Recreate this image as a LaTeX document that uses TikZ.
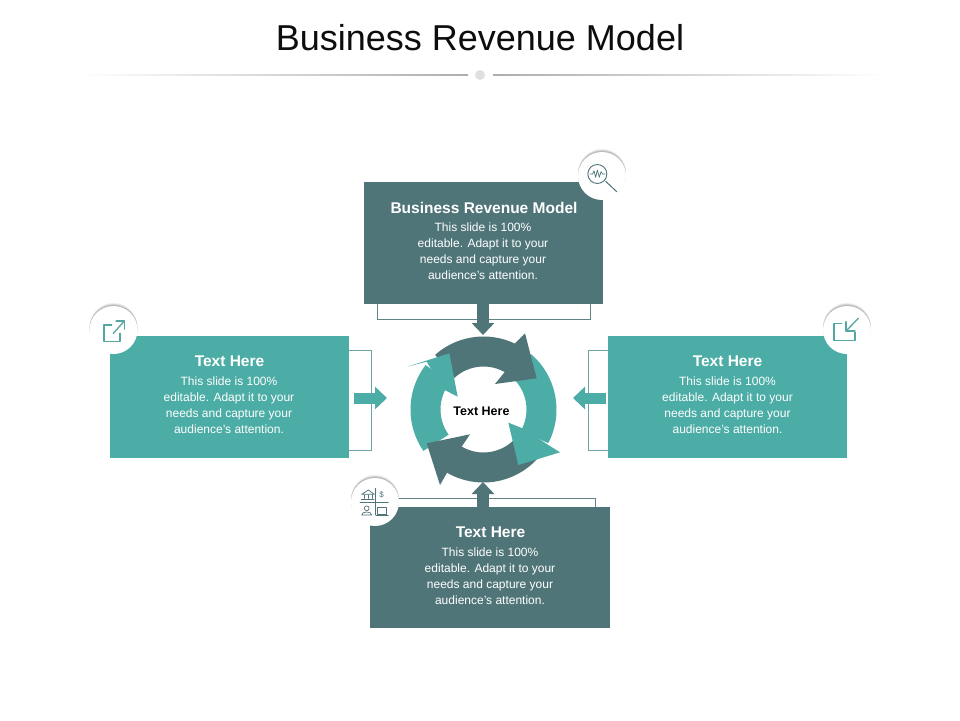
\documentclass[tikz,border=0pt]{standalone}
\usepackage{fontspec}
\setmainfont{Liberation Sans}
\usetikzlibrary{arrows.meta}
\definecolor{darkc}{HTML}{507578}
\definecolor{tealc}{HTML}{4CADA6}
\definecolor{brk}{HTML}{5F8587}
\definecolor{brkt}{HTML}{6FA3A3}
\newcommand{\iconglow}[3]{%
  \foreach \k/\o in {3.2/.06,2.6/.07,2/.09,1.4/.12,.8/.15}{
    \fill[black!70,opacity=\o] (#1,#2-\k) circle[radius=24pt];
  }
  \node[iconbase] (#3) at (#1,#2) {};
}
\tikzset{
  boxdark/.style={fill=darkc,minimum width=239pt,minimum height=122pt,inner sep=0pt,anchor=north west},
  boxteal/.style={fill=tealc,minimum width=239pt,minimum height=122pt,inner sep=0pt,anchor=north west},
  headtxt/.style={text=white,font=\bfseries\fontsize{15.5}{16}\selectfont,inner sep=0pt},
  bodytxt/.style={text=white,font=\fontsize{12}{16}\selectfont,align=center,inner sep=0pt,anchor=north},
  connd/.style={draw=darkc,line width=12pt,-{Triangle[length=12pt,width=22pt,fill=darkc]}},
  connt/.style={draw=tealc,line width=11pt,-{Triangle[length=12pt,width=22pt,fill=tealc]}},
  bracketd/.style={draw=brk,line width=.9pt},
  brackett/.style={draw=brkt,line width=.9pt},
  iconbase/.style={circle,fill=white,minimum size=48pt,inner sep=0pt},
  icond/.style={draw=darkc,line width=.9pt,line cap=round,line join=round},
  icont/.style={draw=tealc!85!gray,line width=1.3pt,line cap=round,line join=round},
  ringd/.style={draw=darkc,line width=30pt},
  ringt/.style={draw=tealc,line width=30pt}
}
\begin{document}
\begin{tikzpicture}[x=1pt,y=-1pt]
\useasboundingbox (0,0) rectangle (960,720);
\fill[white] (0,0) rectangle (960,720);
% title
\node[inner sep=0pt,font=\fontsize{36}{40}\selectfont,text=black!95] (title) at (480,38) {Business Revenue Model};
\shade[left color=white,right color=black!32] (80,74.6) rectangle (468,75.6);
\shade[left color=black!32,right color=white] (493,74.6) rectangle (885,75.6);
\node[circle,fill=black!12,minimum size=10pt,inner sep=0pt] (dot) at (480,75) {};
% brackets
\coordinate (tb1) at (377,304); \coordinate (tb2) at (377,319); \coordinate (tb3) at (590,319); \coordinate (tb4) at (590,304);
\draw[bracketd] (tb1) -- (tb2) -- (tb3) -- (tb4);
\coordinate (lb1) at (349,350.5); \coordinate (lb2) at (371,350.5); \coordinate (lb3) at (371,450); \coordinate (lb4) at (349,450);
\draw[brackett] (lb1) -- (lb2) -- (lb3) -- (lb4);
\coordinate (rb1) at (608,350.5); \coordinate (rb2) at (588.5,350.5); \coordinate (rb3) at (588.5,450); \coordinate (rb4) at (608,450);
\draw[brackett] (rb1) -- (rb2) -- (rb3) -- (rb4);
\coordinate (bb1) at (385,498); \coordinate (bb2) at (595.5,498); \coordinate (bb3) at (595.5,507);
\draw[bracketd] (bb1) -- (bb2) -- (bb3);
% boxes
\node[boxdark] (top) at (364,182) {};
\node[boxteal] (left) at (110,336) {};
\node[boxteal] (right) at (608,336) {};
\node[boxdark,minimum width=240pt,minimum height=121pt] (bottom) at (370,507) {};
% texts
\node[headtxt] (toph) at (484,208) {Business Revenue Model};
\node[bodytxt] (topb) at (483,222.5) {This slide is 100\%\\editable. Adapt it to your\\needs and capture your\\audience's attention.};
\node[headtxt] (lefth) at (229.5,361) {Text Here};
\node[bodytxt] (leftb) at (229,376.5) {This slide is 100\%\\editable. Adapt it to your\\needs and capture your\\audience's attention.};
\node[headtxt] (righth) at (727.5,361) {Text Here};
\node[bodytxt] (rightb) at (727.5,376.5) {This slide is 100\%\\editable. Adapt it to your\\needs and capture your\\audience's attention.};
\node[headtxt] (bottomh) at (490.5,532) {Text Here};
\node[bodytxt] (bottomb) at (490,547.5) {This slide is 100\%\\editable. Adapt it to your\\needs and capture your\\audience's attention.};
% connectors
\coordinate (ca) at (483,304); \coordinate (cb) at (483,335);
\draw[connd] (ca) -- (cb);
\coordinate (cc) at (483,507); \coordinate (cd) at (483,482);
\draw[connd] (cc) -- (cd);
\coordinate (ce) at (354,398); \coordinate (cf) at (387,398);
\draw[connt] (ce) -- (cf);
\coordinate (cg) at (606,398); \coordinate (ch) at (573,398);
\draw[connt] (cg) -- (ch);
% ring
\coordinate (ringc) at (483.5,409.5);
\draw[ringd] (ringc) ++(132:58pt) arc[start angle=132,end angle=58,radius=58pt];
\draw[ringt] (ringc) ++(50:58pt) arc[start angle=50,end angle=-28,radius=58pt];
\draw[ringd] (ringc) ++(-42:58pt) arc[start angle=-42,end angle=-121,radius=58pt];
\draw[ringt] (ringc) ++(-145:58pt) arc[start angle=-145,end angle=-218,radius=58pt];
\begin{scope}[shift={(390,310)},x=.33333pt,y=-.33333pt]
\fill[darkc] (375,100) -- (405,70) -- (440,205) -- (315,222) -- (345,185) -- cycle;
\fill[tealc] (475,405) -- (510,427) -- (385,465) -- (355,338) -- (405,358) -- cycle;
\fill[darkc] (170,490) -- (150,525) -- (110,400) -- (240,373) -- (215,410) -- cycle;
\fill[tealc] (110,155) -- (52,170) -- (178,130) -- (203,260) -- (160,238) -- cycle;
\end{scope}
\node[inner sep=0pt,font=\bfseries\fontsize{12.5}{14}\selectfont,text=black] (center) at (481.5,411) {Text Here};
% icon circles
\iconglow{602}{176}{i1}
\iconglow{375}{502}{i2}
\iconglow{113.5}{330}{i3}
\iconglow{847}{330}{i4}
% magnifier icon
\begin{scope}[shift={(560,140)},x=.33333pt,y=-.33333pt]
\draw[icond] (112,102) circle[radius=9.5pt];
\draw[icond,line width=1pt] (137,124) -- (170,155);
\draw[icond,line width=.7pt] (90,102) -- (98,102) -- (102,92) -- (107,112) -- (112,90) -- (118,112) -- (123,95) -- (128,102) -- (135,102);
\end{scope}
% bank icon
\begin{scope}[shift={(340,465)},x=.33333pt,y=-.33333pt]
\draw[icond,line width=.7pt] (105,70) -- (105,150);
\draw[icond,line width=.7pt] (60,112) -- (145,112);
\draw[icond,line width=.7pt] (65,88) -- (85,75) -- (103,88) -- cycle;
\draw[icond,line width=.7pt] (72,90) -- (72,100) (84,90) -- (84,100) (96,90) -- (96,100);
\draw[icond,line width=.7pt] (64,103) -- (102,103);
\node[text=darkc,font=\fontsize{8}{8}\selectfont,inner sep=0pt] (dollar) at (125,90) {\$};
\draw[icond,line width=.7pt] (80,130) circle[radius=2.4pt];
\draw[icond,line width=.7pt] (65,150) .. controls (65,138) and (95,138) .. (95,150) -- cycle;
\draw[icond,line width=.7pt] (113,126) rectangle (140,147);
\draw[icond,line width=.7pt] (108,150) -- (145,150);
\end{scope}
% external arrow icon
\begin{scope}[shift={(80,295)},x=.33333pt,y=-.33333pt]
\draw[icont] (95,90) -- (72,90) -- (72,140) -- (120,140) -- (120,115);
\draw[icont] (100,115) -- (133,78);
\draw[icont] (108,78) -- (133,78) -- (133,103);
\end{scope}
% inward arrow icon
\begin{scope}[shift={(810,295)},x=.33333pt,y=-.33333pt]
\draw[icont] (95,85) -- (72,85) -- (72,137) -- (135,137) -- (135,112);
\draw[icont] (145,70) -- (108,108);
\draw[icont] (108,80) -- (108,108) -- (135,108);
\end{scope}
\end{tikzpicture}
\end{document}
